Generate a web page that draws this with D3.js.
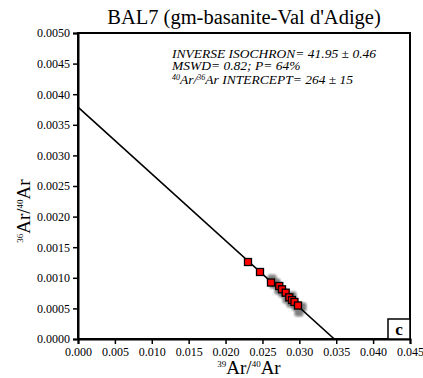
<!DOCTYPE html>
<html>
<head>
<meta charset="utf-8">
<title>BAL7 inverse isochron</title>
<style>
body { margin: 0; background: #fff; }
text { font-family: "Liberation Serif", "Times New Roman", "DejaVu Serif", serif; }
</style>
</head>
<body>
<div id="chart"></div>
<script src="https://d3js.org/d3.v7.min.js"></script>
<script>
// steps used in the isochron (red)
var redX = [0.02304, 0.02467, 0.02616, 0.02728, 0.02765, 0.02815, 0.02864, 0.02901, 0.02934, 0.02982];
var redY = [0.001258, 0.001095, 0.000923, 0.000866, 0.000812, 0.000757, 0.000681, 0.000637, 0.000605, 0.000547];
// other steps (grey, behind)
var greyX = [0.02630, 0.02684, 0.02657, 0.02724, 0.02779, 0.02833, 0.02887, 0.02901, 0.02955, 0.02995, 0.03036];
var greyY = [0.000980, 0.000915, 0.000899, 0.000801, 0.000752, 0.000654, 0.000588, 0.000703, 0.000539, 0.000441, 0.000523];
var xTicks = [0, 0.005, 0.010, 0.015, 0.020, 0.025, 0.030, 0.035, 0.040, 0.045];
var yTicks = [0, 0.0005, 0.0010, 0.0015, 0.0020, 0.0025, 0.0030, 0.0035, 0.0040, 0.0045, 0.0050];
var yIntercept = 1 / 264;   // 36/40 at x = 0
var xIntercept = 0.03474;   // 39/40 at y = 0

var W = 423, H = 378;
var svg = d3.select("#chart").append("svg").attr("width", W).attr("height", H);

var x = d3.scaleLinear().domain([0, 0.045]).range([78, 410]);
var y = d3.scaleLinear().domain([0, 0.005]).range([339, 33]);

// frame
svg.append("rect")
  .attr("x", x(0)).attr("y", y(0.005))
  .attr("width", x(0.045) - x(0)).attr("height", y(0) - y(0.005))
  .attr("fill", "none").attr("stroke", "#000").attr("stroke-width", 2);

var xAxis = svg.append("g").attr("transform", "translate(0," + y(0) + ")")
  .call(d3.axisBottom(x).tickValues(xTicks).tickFormat(d3.format(".3f")).tickSize(5).tickPadding(3));
var yAxis = svg.append("g").attr("transform", "translate(" + x(0) + ",0)")
  .call(d3.axisLeft(y).tickValues(yTicks).tickFormat(d3.format(".4f")).tickSize(5).tickPadding(3));
[xAxis, yAxis].forEach(function (g) {
  g.select(".domain").attr("stroke-width", 2);
  g.selectAll(".tick line").attr("stroke-width", 1.5);
  g.selectAll(".tick text").style("font-size", "12px").attr("fill", "#000");
});

// plot clip
svg.append("clipPath").attr("id", "clip").append("rect")
  .attr("x", x(0)).attr("y", y(0.005)).attr("width", x(0.045) - x(0)).attr("height", y(0) - y(0.005));

var plot = svg.append("g").attr("clip-path", "url(#clip)");

// grey points
var blur = svg.append("defs").append("filter").attr("id", "blur");
blur.append("feGaussianBlur").attr("stdDeviation", 0.8);
plot.selectAll(".grey").data(greyX).enter().append("rect")
  .attr("x", function (d) { return x(d) - 4.5; })
  .attr("y", function (d, i) { return y(greyY[i]) - 4.5; })
  .attr("width", 9).attr("height", 9).attr("rx", 2.5)
  .attr("fill", "#808080").attr("filter", "url(#blur)");

// isochron line
plot.append("line")
  .attr("x1", x(0)).attr("y1", y(yIntercept))
  .attr("x2", x(xIntercept)).attr("y2", y(0))
  .attr("stroke", "#000").attr("stroke-width", 1.6);

// red points
plot.selectAll(".red").data(redX).enter().append("rect")
  .attr("x", function (d) { return x(d) - 3.5; })
  .attr("y", function (d, i) { return y(redY[i]) - 3.5; })
  .attr("width", 7).attr("height", 7)
  .attr("fill", "#ff0000").attr("stroke", "#000").attr("stroke-width", 1.3);

// title
svg.append("text").attr("x", 244).attr("y", 24).attr("text-anchor", "middle")
  .style("font-size", "20.5px").text("BAL7 (gm-basanite-Val d'Adige)");

// annotation
var ann = svg.append("g").style("font-style", "italic").style("font-size", "13.5px");
ann.append("text").attr("x", 172).attr("y", 58).text("INVERSE ISOCHRON= 41.95 \u00b1 0.46");
ann.append("text").attr("x", 172).attr("y", 70).text("MSWD= 0.82; P= 64%");
var t3 = ann.append("text").attr("x", 172).attr("y", 84);
t3.append("tspan").attr("dy", -4).style("font-size", "8px").text("40");
t3.append("tspan").attr("dy", 4).text("Ar/");
t3.append("tspan").attr("dy", -4).style("font-size", "8px").text("36");
t3.append("tspan").attr("dy", 4).text("Ar INTERCEPT= 264 \u00b1 15");

// panel letter
svg.append("rect").attr("x", 388).attr("y", 319).attr("width", 22).attr("height", 20)
  .attr("fill", "#fff").attr("stroke", "#000").attr("stroke-width", 1.5);
svg.append("text").attr("x", 399).attr("y", 335).attr("text-anchor", "middle")
  .style("font-size", "17px").style("font-weight", "bold").text("c");

// axis labels
var xl = svg.append("text").attr("x", 249).attr("y", 374).attr("text-anchor", "middle").style("font-size", "19px");
xl.append("tspan").attr("dy", -7).style("font-size", "9px").text("39");
xl.append("tspan").attr("dy", 7).text("Ar/");
xl.append("tspan").attr("dy", -7).style("font-size", "9px").text("40");
xl.append("tspan").attr("dy", 7).text("Ar");

var yl = svg.append("text").attr("transform", "translate(30,211) rotate(-90)")
  .attr("text-anchor", "middle").style("font-size", "19px");
yl.append("tspan").attr("dy", -7).style("font-size", "9px").text("36");
yl.append("tspan").attr("dy", 7).text("Ar/");
yl.append("tspan").attr("dy", -7).style("font-size", "9px").text("40");
yl.append("tspan").attr("dy", 7).text("Ar");
</script>
</body>
</html>
